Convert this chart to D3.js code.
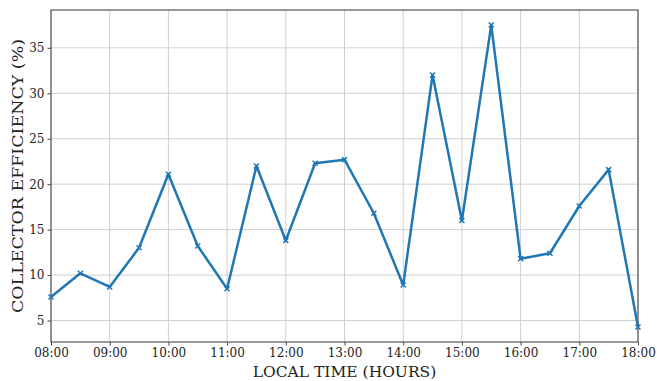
<head>
  <script src="https://cdnjs.cloudflare.com/ajax/libs/d3/7.8.5/d3.min.js"></script>
  <style>body { margin: 0; background: #fff }</style>
</head>

<body>
  <div id="chart"></div>

  <script>
    // half-hour readings, 08:00 .. 18:00
    const times = ['08:00', '08:30', '09:00', '09:30', '10:00', '10:30', '11:00', '11:30',
      '12:00', '12:30', '13:00', '13:30', '14:00', '14:30', '15:00', '15:30',
      '16:00', '16:30', '17:00', '17:30', '18:00'];
    const efficiency = [7.6, 10.2, 8.7, 13.0, 21.1, 13.2, 8.5, 22.0,
      13.8, 22.3, 22.7, 16.8, 8.9, 32.0, 16.0, 37.5,
      11.8, 12.4, 17.6, 21.6, 4.3];
    const xTicks = ['08:00', '09:00', '10:00', '11:00', '12:00', '13:00', '14:00',
      '15:00', '16:00', '17:00', '18:00'];
    const yTicks = [5, 10, 15, 20, 25, 30, 35];

    const width = 657, height = 381;
    const margin = { top: 10, right: 19, bottom: 39, left: 51 };

    const toHours = s => { const [h, m] = s.split(':').map(Number); return h + m / 60; };

    const svg = d3.select('#chart').append('svg')
      .attr('width', width)
      .attr('height', height)
      .style('font-family', '"DejaVu Serif", serif');

    const x = d3.scaleLinear()
      .domain([8, 18])
      .range([margin.left, width - margin.right]);

    const lo = d3.min(efficiency), hi = d3.max(efficiency), pad = (hi - lo) * 0.05;
    const y = d3.scaleLinear()
      .domain([lo - pad, hi + pad])
      .range([height - margin.bottom, margin.top]);

    // grid
    svg.append('g')
      .selectAll('line.v')
      .data(xTicks)
      .join('line')
      .attr('x1', d => x(toHours(d))).attr('x2', d => x(toHours(d)))
      .attr('y1', margin.top).attr('y2', height - margin.bottom)
      .attr('stroke', '#cfcfcf').attr('stroke-width', 1);
    svg.append('g')
      .selectAll('line.h')
      .data(yTicks)
      .join('line')
      .attr('y1', d => y(d)).attr('y2', d => y(d))
      .attr('x1', margin.left).attr('x2', width - margin.right)
      .attr('stroke', '#cfcfcf').attr('stroke-width', 1);

    const xAxis = svg.append('g')
      .attr('transform', `translate(0,${height - margin.bottom})`)
      .call(d3.axisBottom(x)
        .tickValues(xTicks.map(toHours))
        .tickFormat((d, i) => xTicks[i])
        .tickSize(3.5).tickPadding(3).tickSizeOuter(0));

    const yAxis = svg.append('g')
      .attr('transform', `translate(${margin.left},0)`)
      .call(d3.axisLeft(y)
        .tickValues(yTicks)
        .tickSize(3.5).tickPadding(3).tickSizeOuter(0));

    [xAxis, yAxis].forEach(g => {
      g.select('.domain').remove();
      g.selectAll('.tick line').attr('stroke', '#444');
      g.selectAll('.tick text')
        .attr('fill', '#222')
        .style('font-size', '12px')
        .style('font-family', '"DejaVu Serif", serif');
    });

    // frame
    svg.append('rect')
      .attr('x', margin.left).attr('y', margin.top)
      .attr('width', width - margin.left - margin.right)
      .attr('height', height - margin.top - margin.bottom)
      .attr('fill', 'none').attr('stroke', '#555').attr('stroke-width', 1.2);

    const line = d3.line()
      .x((d, i) => x(toHours(times[i])))
      .y(d => y(d));

    svg.append('path')
      .datum(efficiency)
      .attr('d', line)
      .attr('fill', 'none')
      .attr('stroke', '#1f77b4')
      .attr('stroke-width', 2.5)
      .attr('stroke-linejoin', 'round');

    svg.append('g')
      .selectAll('path')
      .data(efficiency)
      .join('path')
      .attr('transform', (d, i) => `translate(${x(toHours(times[i]))},${y(d)})`)
      .attr('d', 'M-2.5,-2.5L2.5,2.5M-2.5,2.5L2.5,-2.5')
      .attr('stroke', '#1f77b4')
      .attr('stroke-width', 1.5);

    svg.append('text')
      .attr('x', (margin.left + width - margin.right) / 2)
      .attr('y', height - 4)
      .attr('text-anchor', 'middle')
      .style('font-size', '15.5px')
      .attr('fill', '#222')
      .text('LOCAL TIME (HOURS)');

    svg.append('text')
      .attr('transform', `translate(23,${(margin.top + height - margin.bottom) / 2}) rotate(-90)`)
      .attr('text-anchor', 'middle')
      .attr('textLength', 274)
      .attr('lengthAdjust', 'spacingAndGlyphs')
      .style('font-size', '15.5px')
      .attr('fill', '#222')
      .text('COLLECTOR EFFICIENCY (%)');
  </script>
</body>
